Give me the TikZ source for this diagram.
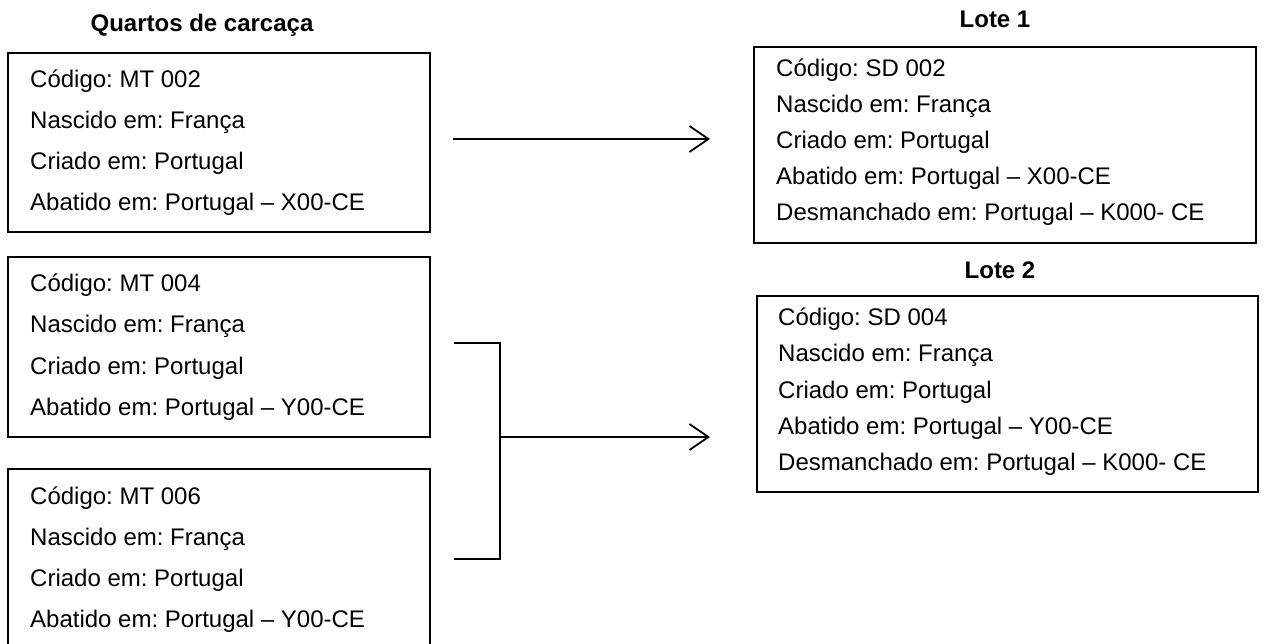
\documentclass[tikz,border=0pt]{standalone}
\usepackage{fontspec}
\setmainfont{Liberation Sans}
\usetikzlibrary{arrows.meta}
\frenchspacing
\tikzset{
  box/.style={draw=black, line width=2.2pt, rectangle, inner sep=0pt},
  txt/.style={anchor=base west, inner sep=0pt, font=\fontsize{24}{28}\selectfont},
  ttl/.style={anchor=base, inner sep=0pt, font=\fontsize{24}{28}\selectfont\bfseries},
  conn/.style={line width=1.8pt, line cap=butt},
  arr/.style={line width=1.8pt, -{Straight Barb[length=19pt,width=26pt,line width=1.8pt]}},
}
\begin{document}
\begin{tikzpicture}[x=1pt,y=-1pt]
\useasboundingbox (0,0) rectangle (1264,644);
\fill[white] (0,0) rectangle (1264,644);
% titles
\node[ttl] (tq) at (202,32) {Quartos de carcaça};
\node[ttl] (tl1) at (995,28) {Lote 1};
\node[ttl] (tl2) at (1000,279) {Lote 2};
% left boxes
\node[box, minimum width=422pt, minimum height=179pt] (mt2) at (219,142.5) {};
\node[box, minimum width=422pt, minimum height=180pt] (mt4) at (219,347) {};
\node[box, minimum width=422pt, minimum height=190pt] (mt6) at (219,564) {};
% right boxes
\node[box, minimum width=502pt, minimum height=196pt] (l1) at (1005,145) {};
\node[box, minimum width=501pt, minimum height=196pt] (l2) at (1007.5,394) {};
% texts box MT 002
\node[txt] (a1) at (30,88) {Código: MT 002};
\node[txt] (a2) at (30,129) {Nascido em: França};
\node[txt] (a3) at (30,170) {Criado em: Portugal};
\node[txt] (a4) at (30,211) {Abatido em: Portugal – X00-CE};
% texts box MT 004
\node[txt] (b1) at (30,292) {Código: MT 004};
\node[txt] (b2) at (30,333) {Nascido em: França};
\node[txt] (b3) at (30,374) {Criado em: Portugal};
\node[txt] (b4) at (30,415) {Abatido em: Portugal – Y00-CE};
% texts box MT 006
\node[txt] (c1) at (30,504) {Código: MT 006};
\node[txt] (c2) at (30,545) {Nascido em: França};
\node[txt] (c3) at (30,586) {Criado em: Portugal};
\node[txt] (c4) at (30,627) {Abatido em: Portugal – Y00-CE};
% texts Lote 1
\node[txt] (d1) at (776,77) {Código: SD 002};
\node[txt] (d2) at (776,113) {Nascido em: França};
\node[txt] (d3) at (776,149) {Criado em: Portugal};
\node[txt] (d4) at (776,185) {Abatido em: Portugal – X00-CE};
\node[txt] (d5) at (776,221) {Desmanchado em: Portugal – K000- CE};
% texts Lote 2
\node[txt] (e1) at (778,326) {Código: SD 004};
\node[txt] (e2) at (778,362) {Nascido em: França};
\node[txt] (e3) at (778,398) {Criado em: Portugal};
\node[txt] (e4) at (778,434) {Abatido em: Portugal – Y00-CE};
\node[txt] (e5) at (778,470) {Desmanchado em: Portugal – K000- CE};
% connectors
\coordinate (p1s) at (453,139);
\coordinate (p1e) at (710,139);
\draw[arr] (p1s) -- (p1e);
\coordinate (bt) at (454,343);
\coordinate (bb) at (454,559);
\coordinate (bm) at (500,437);
\coordinate (p2e) at (710,437);
\draw[conn] (bt) -- (500,343) -- (500,559) -- (bb);
\draw[arr] (bm) -- (p2e);
\end{tikzpicture}
\end{document}
